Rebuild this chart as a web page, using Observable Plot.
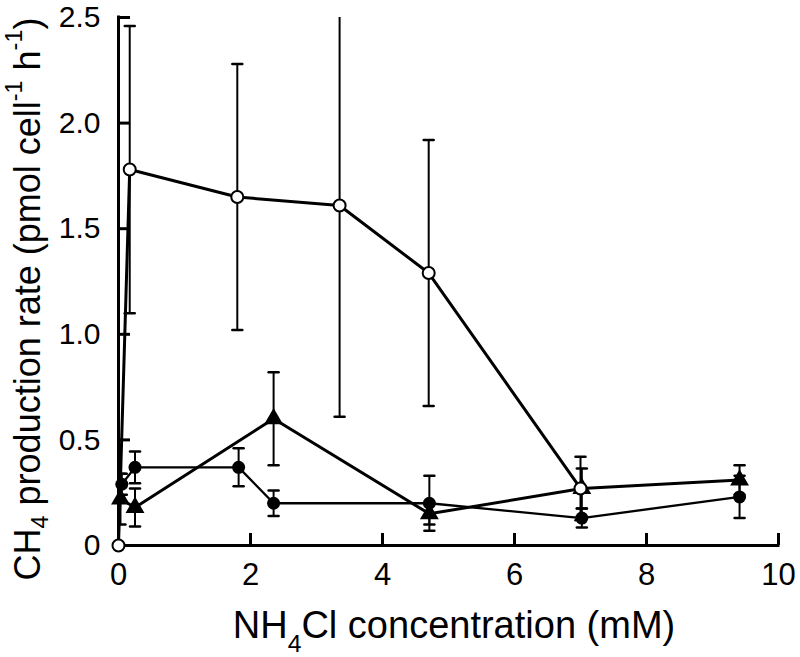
<!DOCTYPE html>
<html>
<head>
<meta charset="utf-8">
<script src="https://cdn.jsdelivr.net/npm/d3@7"></script>
<script src="https://cdn.jsdelivr.net/npm/@observablehq/plot@0.6"></script>
<style>
  html, body { margin: 0; padding: 0; background: white; }
  #chart svg { display: block; }
</style>
</head>
<body>
<div id="chart"></div>
<script>
// Tick values
const xTicks = [0, 2, 4, 6, 8, 10];
const yTicks = [0, 0.5, 1.0, 1.5, 2.0, 2.5];

// Open circles
const openX  = [0, 0.17, 1.8, 3.35, 4.7, 7.0];
const openY  = [0, 1.78, 1.65, 1.61, 1.29, 0.27];
const openSD = [0, 0.68, 0.63, 1.0, 0.63, 0.15];

// Filled circles
const filledX  = [0.05, 0.25, 1.82, 2.35, 4.71, 7.02, 9.41];
const filledY  = [0.29, 0.37, 0.37, 0.20, 0.20, 0.13, 0.23];
const filledSD = [0.05, 0.075, 0.09, 0.06, 0.13, 0.045, 0.10];

// Filled triangles
const triX  = [0.03, 0.25, 2.35, 4.71, 7.02, 9.41];
const triY  = [0.22, 0.18, 0.60, 0.15, 0.27, 0.31];
const triSD = [0.12, 0.09, 0.22, 0.05, 0.095, 0.07];

const toRows = (xs, ys, sds) => xs.map((x, i) => ({x, y: ys[i], sd: sds[i]}));
const open = toRows(openX, openY, openSD);
const filled = toRows(filledX, filledY, filledSD);
const tri = toRows(triX, triY, triSD);
const allErr = [...open, ...filled, ...tri].filter(d => d.sd > 0);

const W = 800, H = 657;
const mL = 118, mR = 22, mT = 17, mB = 112;
const frameW = W - mL - mR, frameH = H - mT - mB;
const tickLen = 12;
const font = "'Liberation Sans', Arial, Helvetica, sans-serif";

const capShape = {draw(context, l) { context.moveTo(0, 0); context.lineTo(0, -l); }};
const cap = (accessor) => Plot.vector(allErr, {
  x: "x", y: accessor, length: 10, rotate: 90, anchor: "middle",
  shape: capShape, stroke: "black", strokeWidth: 2.5, clip: true
});

const chart = Plot.plot({
  width: W, height: H,
  marginLeft: mL, marginRight: mR, marginTop: mT, marginBottom: mB,
  x: {domain: [0, 10]},
  y: {domain: [0, 2.5]},
  style: {fontFamily: font, background: "white", color: "black"},
  marks: [
    // axis lines
    Plot.ruleY([0], {stroke: "black", strokeWidth: 3, strokeLinecap: "square"}),
    Plot.ruleX([0], {stroke: "black", strokeWidth: 3, strokeLinecap: "square"}),
    // inward ticks
    Plot.ruleX(xTicks, {stroke: "black", strokeWidth: 3, insetTop: frameH - tickLen}),
    Plot.ruleY(yTicks, {stroke: "black", strokeWidth: 3, insetRight: frameW - tickLen}),
    // tick labels
    Plot.axisX({ticks: xTicks, tickSize: 0, tickPadding: 17, fontSize: 31, label: null, tickFormat: d => String(d)}),
    Plot.axisY({ticks: yTicks, tickSize: 0, tickPadding: 18, fontSize: 30, label: null,
                tickFormat: d => d === 0 ? "0" : d.toFixed(1)}),
    // lines
    Plot.line(filled, {x: "x", y: "y", stroke: "black", strokeWidth: 2.3}),
    Plot.line(tri, {x: "x", y: "y", stroke: "black", strokeWidth: 3}),
    Plot.line(open, {x: "x", y: "y", stroke: "black", strokeWidth: 3}),
    // error bars
    Plot.ruleX(allErr, {x: "x", y1: d => d.y - d.sd, y2: d => d.y + d.sd, stroke: "black", strokeWidth: 2, clip: true}),
    cap(d => d.y + d.sd),
    cap(d => d.y - d.sd),
    // markers
    Plot.dot(filled, {x: "x", y: "y", r: 6.5, fill: "black", stroke: "none"}),
    Plot.dot(tri, {x: "x", y: "y", symbol: "triangle", r: 7, fill: "black", stroke: "none"}),
    Plot.dot(open, {x: "x", y: "y", r: 6, fill: "white", stroke: "black", strokeWidth: 2})
  ]
});

document.getElementById("chart").appendChild(chart);

// Axis titles with sub/superscripts
const svg = d3.select(chart);
const yl = svg.append("text")
  .attr("transform", "translate(27,299) rotate(-90)")
  .attr("text-anchor", "middle")
  .attr("dominant-baseline", "central")
  .attr("font-size", 36)
  .attr("font-family", font)
  .attr("fill", "black");
yl.append("tspan").text("CH");
yl.append("tspan").attr("baseline-shift", "sub").attr("font-size", "65%").text("4");
yl.append("tspan").text(" production rate (pmol cell");
yl.append("tspan").attr("baseline-shift", "super").attr("font-size", "65%").text("-1");
yl.append("tspan").text(" h");
yl.append("tspan").attr("baseline-shift", "super").attr("font-size", "65%").text("-1");
yl.append("tspan").text(")");

const xl = svg.append("text")
  .attr("x", 454).attr("y", 638)
  .attr("text-anchor", "middle")
  .attr("font-size", 38)
  .attr("font-family", font)
  .attr("fill", "black");
xl.append("tspan").text("NH");
xl.append("tspan").attr("baseline-shift", "sub").attr("font-size", "65%").text("4");
xl.append("tspan").text("Cl concentration (mM)");
</script>
</body>
</html>
